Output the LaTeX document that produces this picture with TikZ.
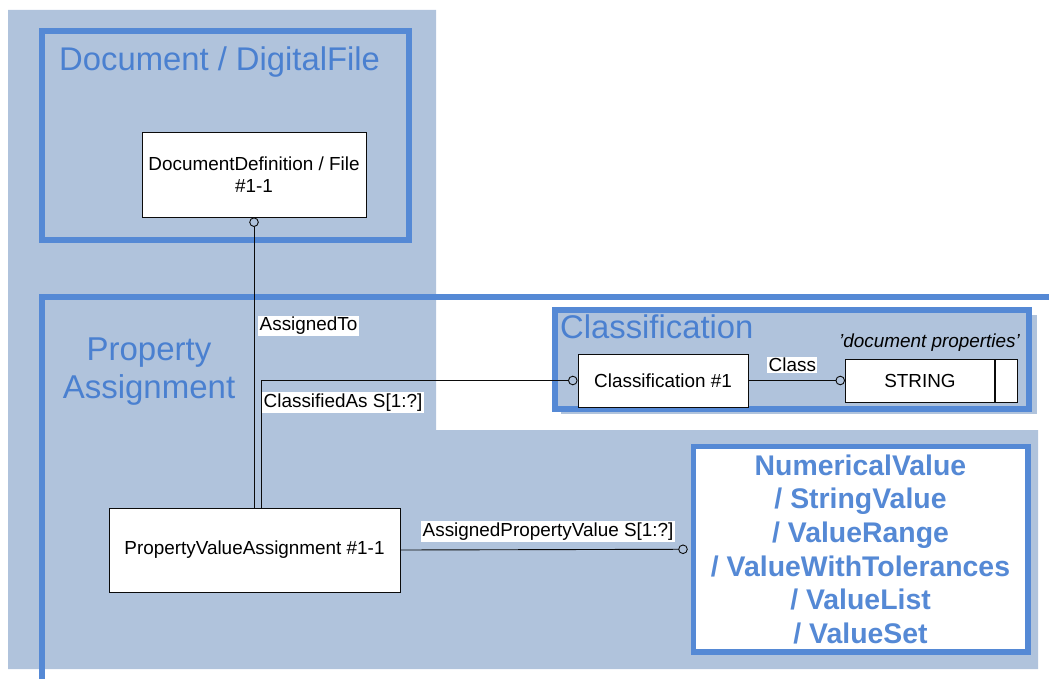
\documentclass[tikz,border=0pt]{standalone}
\usepackage{fontspec}
\setmainfont{Liberation Sans}
\usepackage{tikz}
\usetikzlibrary{positioning,arrows.meta,calc}
\definecolor{cfill}{HTML}{B0C3DC}
\definecolor{cframe}{HTML}{5589D5}
\definecolor{ctitle}{HTML}{4A80D0}
\definecolor{cink}{HTML}{0b0b0b}
\newcommand{\fsz}[2]{\fontsize{#1}{#2}\selectfont}

\begin{document}
\begin{tikzpicture}[x=1pt, y=-1pt, every node/.style={font=\fsz{18.9}{22}},
    box/.style={draw=cink, fill=white, line width=.9pt, inner sep=0pt, align=center},
    lbl/.style={fill=white, inner sep=1.5pt, anchor=west},
    assoc/.style={draw=cink, line width=.9pt, -{Circle[open,length=9.5pt,width=9.5pt]}},
    grp/.style={draw=cframe, line width=5.5pt},
    grptitle/.style={text=ctitle, inner sep=0pt, font=\fsz{32.8}{38}}]
      \useasboundingbox (0,0) rectangle (1049,679);
      \fill[cfill] (8,10) -- (436,10) -- (436,430) -- (1038,430) -- (1038,669) -- (8,669) -- cycle;
      % groups
      \draw[grp] (42,679) -- (42,297) -- (1049,297);
      \draw[grp] (42,31) rectangle (409,240);
      \node[grptitle, anchor=base west] (doctitle) at (59,71) {Document / DigitalFile};
      \node[grptitle, align=center, font=\fsz{33}{38}] (patitle) at (149,371.5) {Property\\Assignment};
      \fill[cfill] (561,315) rectangle (1037,414);
      \draw[grp, fill=cfill] (555,310) rectangle (1029,409);
      \node[grptitle, anchor=base west] (clstitle) at (560,338) {Classification};
      \node[anchor=base east, inner sep=0pt, font=\fsz{18.9}{22}\itshape] (docprops) at (1020,347) {'document properties'};
      % entities
      \node[box, minimum width=224, minimum height=85] (ddf) at (254,174.5) {DocumentDefinition / File\\\#1-1};
      \node[box, minimum width=291, minimum height=84] (pva) at (254.5,550) {PropertyValueAssignment \#1-1};
      \node[box, minimum width=170, minimum height=53] (cls) at (663,380.5) {Classification \#1};
      \node[box, minimum width=149, minimum height=43, anchor=west] (strcell) at (845,380.5) {STRING};
      \node[box, minimum width=22, minimum height=43, right=0pt of strcell] (strtail) {};
      \node[box, draw=cframe, line width=5.5pt, minimum width=334.5, minimum height=205.5, text=cframe,
        font=\fsz{28.4}{33.6}\bfseries] (vals) at (860.5,549.25)
        {NumericalValue\\/ StringValue\\/ ValueRange\\/ ValueWithTolerances\\/ ValueList\\/ ValueSet};
      % relations
      \draw[assoc, {Circle[open,length=9.5pt,width=9.5pt]}-] (ddf.south) -- (ddf.south |- pva.north);
      \draw[assoc] ([xshift=7pt]pva.north) |- (cls.west);
      \draw[assoc] (cls.east) -- (strcell.west);
      \draw[assoc, shorten >=2.75pt] (pva.east) -- (vals.west);
      \node[lbl] (lblto) at (258,326) {AssignedTo};
      \node[lbl] (lblcls) at (262,402.5) {ClassifiedAs S[1:?]};
      \node[lbl] (lblclass) at (767,365) {Class};
      \node[lbl] (lblval) at (421,531.5) {AssignedPropertyValue S[1:?]};
\end{tikzpicture}
\end{document}
